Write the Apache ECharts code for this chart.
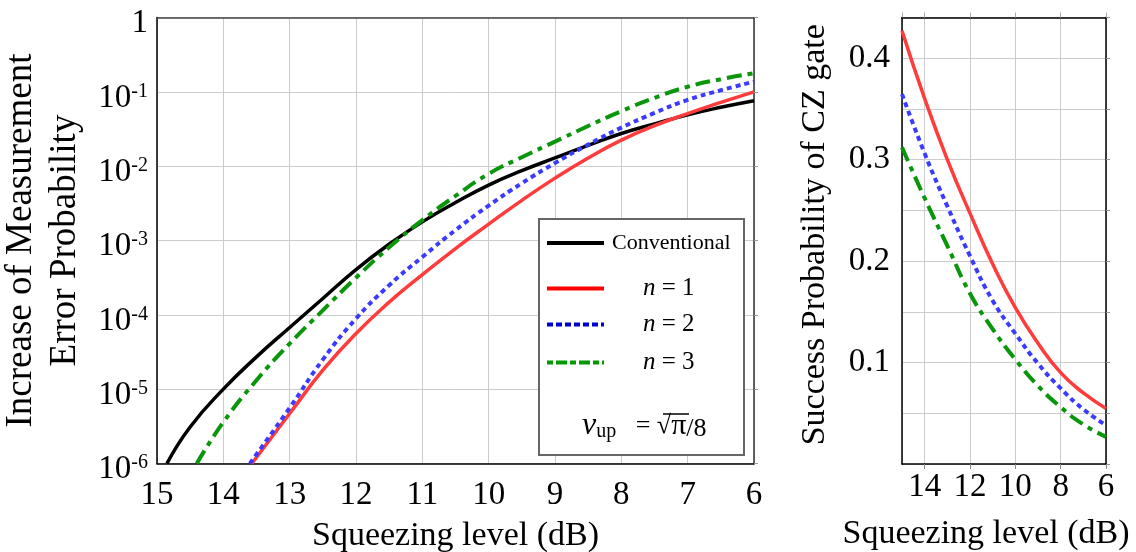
<!DOCTYPE html>
<html>
<head>
<meta charset="utf-8">
<script src="https://cdn.jsdelivr.net/npm/echarts@6/dist/echarts.min.js"></script>
<style>html,body{margin:0;padding:0;background:#fff;}#c{width:1136px;height:552px;}</style>
</head>
<body>
<div id="c"></div>
<script>
// ---- Left panel: increase of measurement error probability (log scale) ----
const errConventional = [[14.85,1.0e-6],[14.5,3.1e-6],[14,1.0e-5],[13.5,2.72e-5],[13,6.76e-5],[12.5,1.66e-4],[12,4.07e-4],[11.5,8.9e-4],[11,1.78e-3],[10.5,3.24e-3],[10,5.57e-3],[9.5,8.7e-3],[9,1.29e-2],[8.5,1.9e-2],[8,2.75e-2],[7.5,3.7e-2],[7,4.9e-2],[6.5,6.2e-2],[6,7.6e-2]];
const errN1 = [[13.57,1.0e-6],[13,4.7e-6],[12.5,1.8e-5],[12,5.6e-5],[11.5,1.48e-4],[11,3.47e-4],[10.5,7.8e-4],[10,1.66e-3],[9.5,3.47e-3],[9,6.9e-3],[8.5,1.29e-2],[8,2.24e-2],[7.5,3.5e-2],[7,5.1e-2],[6.5,7.2e-2],[6,1.0e-1]];
const errN2 = [[13.6,1.0e-6],[13,5.6e-6],[12.5,2.5e-5],[12,8.9e-5],[11.5,2.5e-4],[11,6.0e-4],[10.5,1.38e-3],[10,2.95e-3],[9.5,5.9e-3],[9,1.1e-2],[8.5,1.95e-2],[8,3.3e-2],[7.5,5.2e-2],[7,7.8e-2],[6.5,1.05e-1],[6,1.37e-1]];
const errN3 = [[14.4,1.0e-6],[14,3.6e-6],[13.5,1.32e-5],[13,4.1e-5],[12.5,1.15e-4],[12,3.16e-4],[11.5,8.1e-4],[11,1.88e-3],[10.5,3.98e-3],[10,7.9e-3],[9.5,1.32e-2],[9,2.14e-2],[8.5,3.47e-2],[8,5.5e-2],[7.5,8.3e-2],[7,1.17e-1],[6.5,1.48e-1],[6,1.78e-1]];

// ---- Right panel: success probability of CZ gate ----
const czN1 = [[15,0.427],[14,0.360],[13,0.300],[12,0.247],[11,0.197],[10,0.154],[9,0.119],[8,0.090],[7,0.070],[6,0.0548]];
const czN2 = [[15,0.3645],[14,0.306],[13,0.254],[12,0.205],[11,0.161],[10,0.1285],[9,0.099],[8,0.0745],[7,0.054],[6,0.0383]];
const czN3 = [[15,0.312],[14,0.262],[13,0.215],[12,0.168],[11,0.133],[10,0.103],[9,0.077],[8,0.056],[7,0.039],[6,0.0268]];

const seriesNames = ['Conventional','n = 1','n = 2','n = 3'];
const xAxisName = 'Squeezing level (dB)';
const leftYName = 'Increase of Measurement\nError Probability';
const rightYName = 'Success Probability of CZ gate';

const F = 'Liberation Serif';
const gridColor = '#cccccc';
const styles = {
  'Conventional': {color:'#000000', width:3.5, type:'solid'},
  'n = 1': {color:'#ff3b3b', width:3.5, type:'solid'},
  'n = 2': {color:'#3b3bff', width:4, type:[5,4]},
  'n = 3': {color:'#0a960a', width:4, type:[15,6,5,6]}
};
const legendLines = {
  'Conventional': {color:'#000000', width:4, type:'solid'},
  'n = 1': {color:'#ff0000', width:4, type:'solid'},
  'n = 2': {color:'#0000cc', width:4, type:[6,3]},
  'n = 3': {color:'#009900', width:4, type:[6,3,11,3]}
};

function lineSeries(name, data, xi, yi) {
  const s = styles[name];
  return {
    type:'line', name, data, xAxisIndex:xi, yAxisIndex:yi,
    symbol:'none', smooth:0.5, clip:true,
    lineStyle:{color:s.color, width:s.width, type:s.type},
    itemStyle:{color:s.color}, z:3
  };
}

const chart = echarts.init(document.getElementById('c'), null, {renderer:'canvas'});

const logLabel = v => {
  const e = Math.round(Math.log10(v));
  return e === 0 ? '{b|1}' : '{b|10}{s|' + e + '}';
};

const legendText = () => ({
  fontFamily:F, color:'#000',
  rich:{
    i:{fontFamily:F, fontStyle:'italic', fontSize:25, color:'#000', padding:[0,0,0,34]},
    r:{fontFamily:F, fontSize:25, color:'#000'}
  }
});
const nFmt = name => '{i|n}{r| = ' + name.slice(4) + '}';
const hiddenSymbol = {color:'rgba(0,0,0,0)', borderColor:'rgba(0,0,0,0)', borderWidth:0, opacity:0};
function legendFor(name, top) {
  const o = {data:[name], top, left:545, padding:0, itemWidth:57, itemHeight:18, itemGap:0,
    selectedMode:false, z:10, itemStyle:hiddenSymbol, lineStyle:legendLines[name]};
  if (name === 'Conventional') {
    o.textStyle = {fontFamily:F, fontSize:22, color:'#000', padding:[0,0,0,3]};
  } else {
    o.formatter = nFmt; o.textStyle = legendText();
  }
  return o;
}

chart.setOption({
  animation:false,
  backgroundColor:'#ffffff',
  grid:[
    {left:157, right:382, top:17.5, bottom:88.5, containLabel:false, outerBoundsMode:'none'},
    {left:902, right:30, top:17.5, bottom:88, containLabel:false, outerBoundsMode:'none'}
  ],
  xAxis:[
    {gridIndex:0, type:'value', min:6, max:15, interval:1, inverse:true, position:'bottom',
     name:xAxisName, nameLocation:'middle', nameGap:56,
     nameTextStyle:{fontFamily:F, fontSize:34, color:'#000'},
     axisLine:{show:true, onZero:false, lineStyle:{color:'#000', width:1.5}},
     axisTick:{show:false},
     axisLabel:{fontFamily:F, fontSize:33, color:'#000', margin:15},
     splitLine:{show:true, lineStyle:{color:gridColor, width:1}}},
    {gridIndex:0, type:'value', min:6, max:15, interval:1, inverse:true, position:'top',
     axisLine:{show:true, onZero:false, lineStyle:{color:'#444', width:1.5}},
     axisTick:{show:false}, axisLabel:{show:false}, splitLine:{show:false}},
    {gridIndex:1, type:'value', min:6, max:15, interval:2, inverse:true, position:'bottom',
     name:xAxisName, nameLocation:'middle', nameGap:53,
     nameTextStyle:{fontFamily:F, fontSize:34, color:'#000', padding:[0,36,0,0]},
     axisLine:{show:true, onZero:false, lineStyle:{color:'#000', width:1.5}},
     axisTick:{show:true, inside:false, length:5, lineStyle:{color:'#888'}},
     axisLabel:{fontFamily:F, fontSize:33, color:'#000', margin:7, showMaxLabel:false},
     splitLine:{show:true, lineStyle:{color:gridColor, width:1}}},
    {gridIndex:1, type:'value', min:6, max:15, interval:2, inverse:true, position:'top',
     axisLine:{show:true, onZero:false, lineStyle:{color:'#000', width:1.5}},
     axisTick:{show:true, inside:false, length:5, lineStyle:{color:'#aaa'}},
     axisLabel:{show:false}, splitLine:{show:false}}
  ],
  yAxis:[
    {gridIndex:0, type:'log', logBase:10, min:1e-6, max:1, position:'left',
     name:leftYName, nameLocation:'middle', nameRotate:90, nameGap:70,
     nameTextStyle:{fontFamily:F, fontSize:37, lineHeight:44, color:'#000'},
     axisLine:{show:true, onZero:false, lineStyle:{color:'#000', width:1.5}},
     axisTick:{show:false},
     axisLabel:{formatter:logLabel, margin:9, padding:[12,0,0,0],
       rich:{b:{fontFamily:F, fontSize:33, color:'#000'},
             s:{fontFamily:F, fontSize:20, color:'#000', verticalAlign:'top'}}},
     splitLine:{show:true, lineStyle:{color:gridColor, width:1}}},
    {gridIndex:0, type:'log', logBase:10, min:1e-6, max:1, position:'right',
     axisLine:{show:true, onZero:false, lineStyle:{color:'#333', width:1.5}},
     axisTick:{show:true, inside:false, length:4, lineStyle:{color:'#999'}},
     axisLabel:{show:false}, splitLine:{show:false}},
    {gridIndex:1, type:'value', min:0, max:0.44, interval:0.05, position:'left',
     name:rightYName, nameLocation:'middle', nameRotate:90, nameGap:70,
     nameTextStyle:{fontFamily:F, fontSize:34, color:'#000', padding:[0,0,0,12]},
     axisLine:{show:true, onZero:false, lineStyle:{color:'#000', width:1.5}},
     axisTick:{show:false},
     axisLabel:{fontFamily:F, fontSize:33, color:'#000', margin:12, showMaxLabel:false,
       formatter:v => { const r = Math.round(v*100); return (r % 10 === 0 && r > 0 && r <= 40) ? (r/100).toFixed(1) : ''; }},
     splitLine:{show:true, lineStyle:{color:gridColor, width:1}}},
    {gridIndex:1, type:'value', min:0, max:0.44, interval:0.05, position:'right',
     axisLine:{show:true, onZero:false, lineStyle:{color:'#000', width:1.5}},
     axisTick:{show:true, inside:false, length:4, lineStyle:{color:'#999'}},
     axisLabel:{show:false}, splitLine:{show:false}}
  ],
  legend:[
    legendFor('Conventional', 232),
    legendFor('n = 1', 276),
    legendFor('n = 2', 312),
    legendFor('n = 3', 350)
  ],
  graphic:[
    {type:'rect', z:5, shape:{x:539, y:219, width:205, height:236},
     style:{fill:'#ffffff', stroke:'#666666', lineWidth:2}},
    {type:'text', z:6, x:582, y:426,
     style:{text:'{nu|ν}{up|up}{eq|   = √}{pi|π}{sl|/8}', verticalAlign:'middle', align:'left',
       rich:{
         nu:{fontFamily:F, fontStyle:'italic', fontSize:32, fill:'#000'},
         up:{fontFamily:F, fontSize:20, fill:'#000', verticalAlign:'bottom'},
         eq:{fontFamily:F, fontSize:26, fill:'#000'},
         pi:{fontFamily:F, fontSize:30, fill:'#000'},
         sl:{fontFamily:F, fontSize:26, fill:'#000', verticalAlign:'bottom'}
       }}},
    {type:'line', z:6, shape:{x1:663, y1:414, x2:689, y2:414}, style:{stroke:'#000', lineWidth:1.5}}
  ],
  series:[
    lineSeries('Conventional', errConventional, 0, 0),
    lineSeries('n = 1', errN1, 0, 0),
    lineSeries('n = 2', errN2, 0, 0),
    lineSeries('n = 3', errN3, 0, 0),
    lineSeries('n = 1', czN1, 2, 2),
    lineSeries('n = 2', czN2, 2, 2),
    lineSeries('n = 3', czN3, 2, 2)
  ]
});
</script>
</body>
</html>
